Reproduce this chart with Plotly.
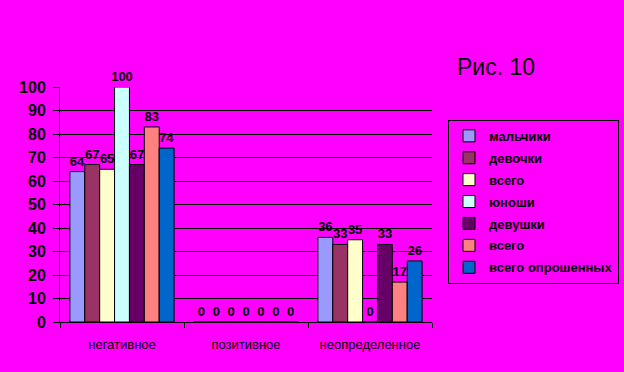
import plotly.graph_objects as go

categories = ["негативное", "позитивное", "неопределенное"]
series_names = ["мальчики", "девочки", "всего", "юноши", "девушки", "всего", "всего опрошенных"]
values = {
    "мальчики": [64, 0, 36],
    "девочки": [67, 0, 33],
    "всего_1": [65, 0, 35],
    "юноши": [100, 0, 0],
    "девушки": [67, 0, 33],
    "всего_2": [83, 0, 17],
    "всего опрошенных": [74, 0, 26],
}
series_keys = ["мальчики", "девочки", "всего_1", "юноши", "девушки", "всего_2", "всего опрошенных"]
colors = ["#9999FF", "#993366", "#FFFFCC", "#CCFFFF", "#660066", "#FF8080", "#0066CC"]
y_ticks = list(range(0, 101, 10))

FONT = "Liberation Sans, Arial, sans-serif"
BG = "#FF00FF"

fig = go.Figure()
for i, (key, name) in enumerate(zip(series_keys, series_names)):
    fig.add_trace(go.Bar(
        x=categories,
        y=values[key],
        name=name,
        legendgroup=f"g{i}",
        marker=dict(color=colors[i], line=dict(color="black", width=1)),
        text=[str(v) for v in values[key]],
        textposition="outside",
        constraintext="none",
        textfont=dict(family=FONT, size=13, color="black", weight="bold"),
        cliponaxis=False,
    ))

fig.update_layout(
    width=624, height=372,
    margin=dict(l=60, r=192, t=87, b=50, autoexpand=False),
    paper_bgcolor=BG, plot_bgcolor=BG,
    barmode="group", bargap=0.16, bargroupgap=0,
    font=dict(family=FONT, color="black"),
    showlegend=True,
    legend=dict(
        x=1.043, y=0.86, xanchor="left", yanchor="top",
        bgcolor=BG, bordercolor="black", borderwidth=1,
        font=dict(family=FONT, size=13, color="black", weight="bold"),
        traceorder="grouped", tracegroupgap=2,
        itemwidth=30,
    ),
    xaxis=dict(
        showgrid=False, showline=True, linecolor="black", linewidth=1,
        ticks="outside", tickson="boundaries", ticklen=5, tickcolor="black",
        ticklabelstandoff=10,
        tickfont=dict(family=FONT, size=13, color="black"),
    ),
    yaxis=dict(
        range=[0, 100], tickvals=y_ticks,
        showgrid=True, gridcolor="black", gridwidth=1,
        showline=True, linecolor="black", linewidth=1,
        ticks="outside", ticklen=6, tickcolor="black",
        ticklabelstandoff=4,
        tickfont=dict(family=FONT, size=16, color="black", weight="bold"),
        zeroline=False,
    ),
    annotations=[dict(
        text="Рис. 10", xref="paper", yref="paper",
        x=1.172, y=1.085, xanchor="center", yanchor="middle",
        showarrow=False, font=dict(family=FONT, size=23, color="black"),
    )],
)

fig.write_html("out.html")
